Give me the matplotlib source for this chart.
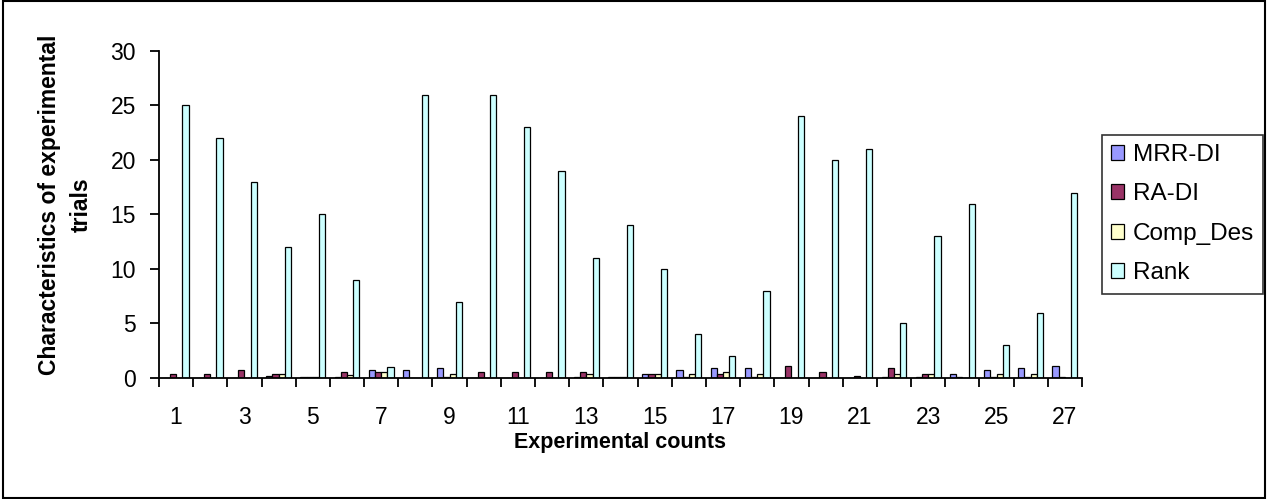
import matplotlib.pyplot as plt
import numpy as np
from matplotlib.patches import Rectangle

plt.rcParams['font.family'] = ['Liberation Sans', 'DejaVu Sans']

counts = np.arange(1, 28)
mrr_di = [0, 0, 0, 0.15, 0.1, 0.1, 0.7, 0.7, 0.89, 0, 0, 0, 0.1, 0.1, 0.37, 0.7, 0.89, 0.89,
          0, 0, 0, 0.1, 0.1, 0.37, 0.7, 0.89, 1.1]
ra_di = [0.35, 0.33, 0.7, 0.37, 0.1, 0.55, 0.55, 0, 0.05, 0.52, 0.52, 0.52, 0.52, 0.1, 0.37, 0.05, 0.37, 0.05,
         1.1, 0.55, 0.15, 0.9, 0.37, 0.05, 0.05, 0.05, 0.1]
comp_des = [0, 0, 0, 0.37, 0.1, 0.3, 0.55, 0, 0.37, 0, 0, 0, 0.37, 0.1, 0.37, 0.37, 0.55, 0.37,
            0, 0, 0, 0.37, 0.37, 0, 0.37, 0.37, 0]
rank = [25, 22, 18, 12, 15, 9, 1, 26, 7, 26, 23, 19, 11, 14, 10, 4, 2, 8, 24, 20, 21, 5, 13, 16, 3, 6, 17]

series = [("MRR-DI", mrr_di, "#9999FF"), ("RA-DI", ra_di, "#993366"),
          ("Comp_Des", comp_des, "#FFFFCC"), ("Rank", rank, "#CCFFFF")]

fig = plt.figure(figsize=(12.68, 4.99), dpi=100)
ax = fig.add_axes([0.1254, 0.2425, 0.8533 - 0.1254, 0.8978 - 0.2425])

w = 1 / 5.5
for k, (name, vals, col) in enumerate(series):
    ax.bar(counts + (k - 1.5) * w, vals, width=w, color=col, edgecolor="black", linewidth=0.9, label=name)

ax.set_xlim(0.5, 27.5)
ax.set_ylim(0, 30)
ax.set_yticks(range(0, 31, 5))
ax.set_xticks(counts[::2])
ax.set_xticklabels([str(c) for c in counts[::2]])
ax.set_xticks(np.arange(0.5, 28, 1), minor=True)
ax.tick_params(axis="x", which="major", length=0, labelsize=16.5, pad=20)
ax.tick_params(axis="x", which="minor", length=6.5, width=1.3, direction="out")
ax.tick_params(axis="y", length=6.5, width=1.3, labelsize=16.5, pad=10)
ax.spines["top"].set_visible(False)
ax.spines["right"].set_visible(False)
ax.spines["left"].set_linewidth(1.3)
ax.spines["bottom"].set_linewidth(1.3)

ax.set_xlabel("Experimental counts", fontsize=15.5, fontweight="bold", labelpad=2)
ax.set_ylabel("Characteristics of experimental\ntrials", fontsize=16.5, fontweight="bold",
              linespacing=1.5)
ax.yaxis.set_label_coords(-0.072, 0.53)

leg = fig.legend(loc="center left", bbox_to_anchor=(0.869, 0.571), fontsize=17.5, frameon=True,
                 fancybox=False, edgecolor="black", handlelength=0.55, handleheight=0.55,
                 handletextpad=0.35, labelspacing=0.72, borderpad=0.38, borderaxespad=0)
leg.get_frame().set_linewidth(1.2)

fig.patches.append(Rectangle((0.002, 0.003), 0.996, 0.994, transform=fig.transFigure,
                             fill=False, edgecolor="black", linewidth=1.5))

fig.savefig("out.png", dpi=100)
